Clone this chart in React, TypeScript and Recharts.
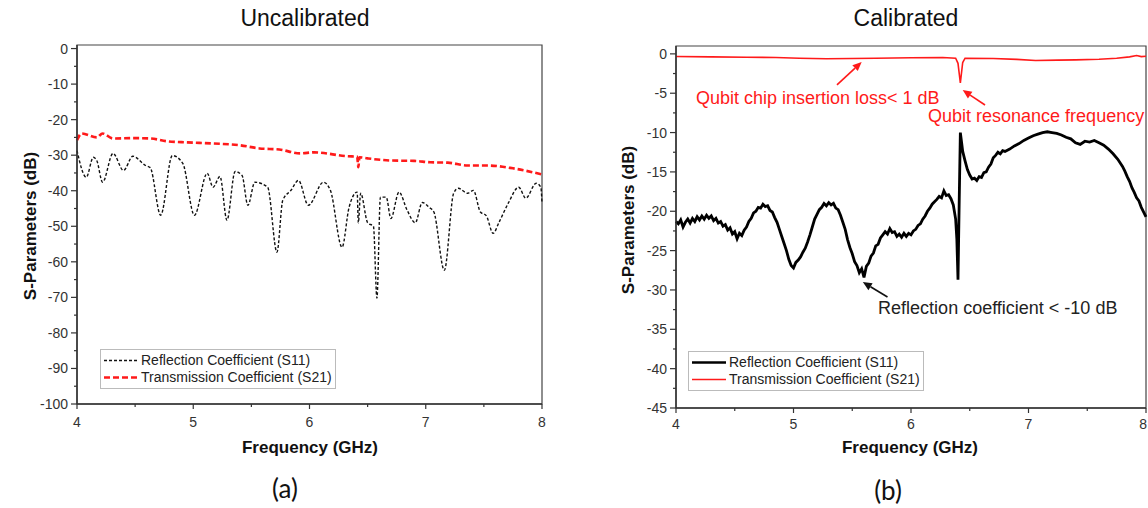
import React from "react";
import { LineChart, Line, XAxis, YAxis, ReferenceArea, ReferenceLine, ReferenceDot, Legend } from "recharts";

// ---------- (a) Uncalibrated ----------
const freqA11 = [4.0, 4.08, 4.14, 4.17, 4.22, 4.31, 4.4, 4.48, 4.59, 4.63, 4.72, 4.82, 4.91, 5.01, 5.12, 5.17, 5.23, 5.29, 5.36, 5.42, 5.47, 5.53, 5.64, 5.72, 5.77, 5.84, 5.905, 5.99, 6.12, 6.18, 6.28, 6.34, 6.41, 6.42, 6.44, 6.5, 6.55, 6.58, 6.61, 6.66, 6.7, 6.77, 6.84, 6.91, 6.97, 7.03, 7.07, 7.16, 7.24, 7.28, 7.36, 7.41, 7.47, 7.52, 7.58, 7.63, 7.71, 7.8, 7.86, 7.95, 7.99, 8.0];
const s11A = [-28.7, -36.2, -30.6, -31.5, -37.6, -29.5, -34.3, -30.3, -32.9, -33.5, -46.9, -30.1, -32.3, -46.9, -35.1, -39.0, -36.0, -48.3, -34.6, -35.7, -44.1, -37.6, -39.0, -57.3, -42.7, -39.9, -37.1, -44.1, -37.6, -39.9, -55.9, -44.7, -40.4, -49.0, -40.7, -49.0, -50.0, -70.2, -41.8, -41.8, -47.8, -40.4, -45.5, -49.0, -43.3, -44.7, -46.0, -62.4, -40.7, -39.3, -40.7, -39.9, -46.0, -47.0, -52.0, -48.9, -43.5, -39.0, -42.1, -37.9, -39.0, -43.5];
const freqA21 = [4.0, 4.04, 4.17, 4.22, 4.31, 4.48, 4.63, 4.78, 4.95, 5.17, 5.4, 5.57, 5.74, 5.92, 6.04, 6.33, 6.41, 6.42, 6.43, 6.5, 6.7, 6.9, 7.04, 7.19, 7.36, 7.53, 7.75, 8.0];
const s21A = [-25.8, -23.9, -25.0, -23.9, -25.3, -25.2, -25.3, -26.1, -26.4, -26.7, -27.2, -28.1, -28.4, -29.5, -29.2, -30.3, -30.4, -33.4, -30.6, -30.9, -31.5, -31.6, -32.0, -32.1, -32.9, -32.9, -33.7, -35.4];

// ---------- (b) Calibrated ----------
const freqB11 = [4.0, 4.02, 4.04, 4.06, 4.08, 4.1, 4.12, 4.14, 4.16, 4.18, 4.2, 4.22, 4.24, 4.26, 4.28, 4.3, 4.32, 4.34, 4.36, 4.38, 4.4, 4.42, 4.44, 4.46, 4.48, 4.5, 4.52, 4.54, 4.56, 4.58, 4.6, 4.62, 4.64, 4.66, 4.68, 4.7, 4.72, 4.74, 4.76, 4.78, 4.8, 4.82, 4.84, 4.86, 4.88, 4.9, 4.92, 4.94, 4.96, 4.98, 5.0, 5.02, 5.04, 5.06, 5.08, 5.1, 5.12, 5.14, 5.16, 5.18, 5.2, 5.22, 5.24, 5.26, 5.28, 5.3, 5.32, 5.34, 5.36, 5.38, 5.4, 5.42, 5.44, 5.46, 5.48, 5.5, 5.52, 5.54, 5.56, 5.58, 5.6, 5.62, 5.64, 5.66, 5.68, 5.7, 5.72, 5.74, 5.76, 5.78, 5.8, 5.82, 5.84, 5.86, 5.88, 5.9, 5.92, 5.94, 5.96, 5.98, 6.0, 6.02, 6.04, 6.06, 6.08, 6.1, 6.12, 6.14, 6.16, 6.18, 6.2, 6.22, 6.24, 6.26, 6.28, 6.3, 6.32, 6.34, 6.36, 6.38, 6.39, 6.4, 6.41, 6.42, 6.43, 6.44, 6.46, 6.48, 6.5, 6.52, 6.54, 6.56, 6.58, 6.6, 6.62, 6.64, 6.66, 6.68, 6.7, 6.72, 6.74, 6.76, 6.78, 6.8, 6.84, 6.88, 6.92, 6.96, 7.0, 7.04, 7.08, 7.12, 7.16, 7.2, 7.24, 7.28, 7.32, 7.36, 7.4, 7.44, 7.48, 7.52, 7.56, 7.6, 7.64, 7.68, 7.72, 7.76, 7.8, 7.82, 7.84, 7.86, 7.88, 7.9, 7.92, 7.94, 7.96, 7.98, 8.0];
const s11B = [-21.3, -21.6, -21.1, -22.0, -21.4, -21.0, -21.5, -20.9, -21.3, -20.7, -21.1, -20.6, -21.0, -20.5, -20.9, -20.6, -21.2, -20.9, -21.5, -21.3, -21.9, -21.7, -22.4, -22.1, -22.9, -22.6, -23.5, -22.8, -23.1, -22.4, -22.0, -21.3, -20.9, -20.2, -20.0, -19.5, -19.6, -19.1, -19.4, -19.3, -19.9, -20.1, -20.8, -21.4, -22.3, -23.2, -24.1, -25.0, -26.1, -26.9, -27.2, -26.5, -26.2, -25.8, -25.2, -24.7, -23.9, -23.0, -22.0, -21.0, -20.4, -19.8, -19.5, -19.0, -19.3, -18.9, -19.2, -19.0, -19.6, -19.8, -20.5, -21.4, -22.3, -23.6, -24.6, -25.4, -26.4, -26.9, -27.8, -27.3, -28.4, -27.0, -26.6, -25.7, -25.3, -24.4, -24.2, -23.4, -23.0, -22.6, -22.9, -22.2, -22.7, -22.6, -23.2, -22.9, -23.3, -22.8, -23.2, -22.8, -23.0, -22.5, -22.3, -21.8, -21.6, -21.0, -20.6, -20.0, -19.6, -19.1, -18.8, -18.5, -18.1, -18.3, -17.4, -18.0, -17.9, -18.4, -19.2, -21.0, -23.5, -28.7, -19.0, -10.0, -11.2, -12.4, -13.6, -14.7, -15.4, -15.9, -15.8, -16.1, -15.6, -15.7, -15.1, -15.0, -14.4, -14.0, -13.2, -12.9, -12.5, -12.7, -12.3, -12.4, -12.1, -11.7, -11.4, -11.0, -10.7, -10.4, -10.2, -10.0, -9.9, -10.0, -10.1, -10.3, -10.6, -10.8, -11.3, -11.5, -11.1, -11.2, -11.0, -11.3, -11.6, -12.1, -12.7, -13.4, -14.3, -14.9, -15.6, -16.2, -17.0, -17.6, -18.3, -18.7, -19.5, -20.1, -20.7];
const freqB21 = [4.0, 4.3, 4.6, 4.85, 5.05, 5.28, 5.5, 5.7, 6.0, 6.27, 6.38, 6.4, 6.42, 6.44, 6.46, 6.7, 6.9, 7.06, 7.25, 7.4, 7.6, 7.75, 7.86, 7.92, 7.96, 8.0];
const s21B = [-0.34, -0.38, -0.42, -0.47, -0.55, -0.62, -0.58, -0.55, -0.5, -0.47, -0.55, -1.2, -3.7, -1.1, -0.55, -0.58, -0.7, -0.85, -0.8, -0.76, -0.68, -0.55, -0.38, -0.21, -0.35, -0.3];

// ---------- ticks & labels ----------
const xTicks = [4, 4.5, 5, 5.5, 6, 6.5, 7, 7.5, 8];
const yTicksA = [0, -5, -10, -15, -20, -25, -30, -35, -40, -45, -50, -55, -60, -65, -70, -75, -80, -85, -90, -95, -100];
const yTicksB = [0, -2.5, -5, -7.5, -10, -12.5, -15, -17.5, -20, -22.5, -25, -27.5, -30, -32.5, -35, -37.5, -40, -42.5, -45];
const seriesNames = ["Reflection Coefficient (S11)", "Transmission Coefficient (S21)"];
const annotations = ["Qubit chip insertion loss< 1 dB", "Qubit resonance frequency", "Reflection coefficient < -10 dB"];

const zip = (xs: number[], ys: number[]) => xs.map((f, i) => ({ f, v: ys[i] }));
const dataA11 = zip(freqA11, s11A);
const dataA21 = zip(freqA21, s21A);
const dataB11 = zip(freqB11, s11B);
const dataB21 = zip(freqB21, s21B);

const FONT = "'Liberation Sans', Arial, sans-serif";
const AX = "#333";

const makeYTick = (axisX: number, majorStep: number) => (props: any) => {
  const { y, payload } = props;
  const v = payload.value as number;
  const major = Math.abs(v % majorStep) < 1e-6;
  return (
    <g>
      <line x1={axisX - (major ? 6 : 3)} x2={axisX} y1={y} y2={y} stroke={AX} strokeWidth={1.2} />
      {major && (
        <text x={axisX - 9} y={y} textAnchor="end" dominantBaseline="central" fontSize={14} fontFamily={FONT} fill="#333">
          {v}
        </text>
      )}
    </g>
  );
};

const makeXTick = (axisY: number, labelGap: number, maxX: number) => (props: any) => {
  const { x, payload } = props;
  const v = payload.value as number;
  const major = Math.abs(v % 1) < 1e-6;
  const atEdge = x > maxX - 4;
  return (
    <g>
      <line x1={x} x2={x} y1={axisY} y2={axisY + (major ? 5 : 3)} stroke={AX} strokeWidth={1.2} />
      {major && (
        <text x={atEdge ? x + 1 : x} y={axisY + labelGap} textAnchor={atEdge ? "end" : "middle"} dominantBaseline="central" fontSize={14} fontFamily={FONT} fill="#333">
          {v}
        </text>
      )}
    </g>
  );
};

const makeLegend = (styles: Record<string, { color: string; dash?: string; width: number }>) => (props: any) => {
  const payload = props.payload || [];
  return (
    <div style={{ border: "1px solid #bbb", background: "#fff", padding: "2px 3px", fontFamily: FONT, fontSize: 14, color: "#222", lineHeight: "17px" }}>
      {payload.map((p: any) => {
        const st = styles[p.value];
        return (
          <div key={p.value} style={{ display: "flex", alignItems: "center", whiteSpace: "nowrap" }}>
            <svg width={34} height={17} style={{ marginRight: 3 }}>
              <line x1={0} x2={34} y1={8.5} y2={8.5} stroke={st.color} strokeWidth={st.width} strokeDasharray={st.dash} />
            </svg>
            <span>{p.value}</span>
          </div>
        );
      })}
    </div>
  );
};

const arrowShape = (color: string) => (props: any) => {
  const { x1, y1, x2, y2 } = props;
  const ang = Math.atan2(y2 - y1, x2 - x1);
  const L = 9, W = 4;
  const bx = x2 - L * Math.cos(ang), by = y2 - L * Math.sin(ang);
  const px = -Math.sin(ang) * W, py = Math.cos(ang) * W;
  return (
    <g>
      <line x1={x1} y1={y1} x2={bx} y2={by} stroke={color} strokeWidth={1.6} />
      <polygon points={`${x2},${y2} ${bx + px},${by + py} ${bx - px},${by - py}`} fill={color} />
    </g>
  );
};

const textShape = (txt: string, color: string) => (props: any) => (
  <text x={props.cx} y={props.cy} fill={color} fontSize={18} fontFamily={FONT}>
    {txt}
  </text>
);

const Abs = ({ x, y, size, bold, rotate, family, children }: any) => (
  <div
    style={{
      position: "absolute",
      left: x,
      top: y,
      transform: `translate(-50%, -50%)${rotate ? " rotate(-90deg)" : ""}`,
      fontSize: size,
      fontWeight: bold ? 700 : 400,
      fontFamily: family || FONT,
      whiteSpace: "nowrap",
      lineHeight: 1,
      color: "#111",
    }}
  >
    {children}
  </div>
);

export default function App() {
  const legendA = {
    [seriesNames[0]]: { color: "#111", dash: "3 2", width: 1.4 },
    [seriesNames[1]]: { color: "#ff1a1a", dash: "6 3", width: 2.6 },
  };
  const legendB = {
    [seriesNames[0]]: { color: "#000", width: 2.4 },
    [seriesNames[1]]: { color: "#ff1a1a", width: 1.6 },
  };
  return (
    <div style={{ position: "absolute", left: 0, top: 0, width: 1148, height: 508, background: "#fff", overflow: "hidden" }}>
      <div style={{ position: "absolute", left: 0, top: 0 }}>
        <LineChart width={560} height={508} margin={{ top: 45, right: 18, bottom: 74, left: 0 }}>
          <XAxis dataKey="f" type="number" domain={[4, 8]} ticks={xTicks} interval={0} height={30} stroke={AX} strokeWidth={1.5} tickLine={false} tick={makeXTick(404, 18, 9999)} allowDuplicatedCategory={false} />
          <YAxis type="number" domain={[-100, 1]} ticks={yTicksA} interval={0} width={77} stroke={AX} strokeWidth={1.5} tickLine={false} tick={makeYTick(77, 10)} />
          <ReferenceArea x1={4} x2={8} y1={-100} y2={1} fill="none" stroke="#444" strokeWidth={1.2} ifOverflow="visible" />
          <Line type="monotone" data={dataA11} dataKey="v" name={seriesNames[0]} stroke="#111" strokeWidth={1.4} strokeDasharray="3 2" dot={false} isAnimationActive={false} />
          <Line type="monotone" data={dataA21} dataKey="v" name={seriesNames[1]} stroke="#ff1a1a" strokeWidth={2.6} strokeDasharray="6 3" dot={false} isAnimationActive={false} />
          <Legend layout="horizontal" verticalAlign="middle" align="center" content={makeLegend(legendA)} wrapperStyle={{ left: 100, top: 349, width: "auto", height: "auto" }} />
        </LineChart>
      </div>
      <div style={{ position: "absolute", left: 576, top: 0 }}>
        <LineChart width={572} height={508} margin={{ top: 46, right: 2, bottom: 70, left: 0 }}>
          <XAxis dataKey="f" type="number" domain={[4, 8]} ticks={xTicks} interval={0} height={30} stroke={AX} strokeWidth={1.5} tickLine={false} tick={makeXTick(408, 16, 570)} allowDuplicatedCategory={false} />
          <YAxis type="number" domain={[-45, 1]} ticks={yTicksB} interval={0} width={100} stroke={AX} strokeWidth={1.5} tickLine={false} tick={makeYTick(100, 5)} />
          <ReferenceArea x1={4} x2={8} y1={-45} y2={1} fill="none" stroke="#444" strokeWidth={1.2} ifOverflow="visible" />
          <Line data={dataB11} dataKey="v" name={seriesNames[0]} stroke="#000" strokeWidth={2.8} strokeLinejoin="miter" dot={false} isAnimationActive={false} />
          <Line data={dataB21} dataKey="v" name={seriesNames[1]} stroke="#ff1a1a" strokeWidth={1.6} dot={false} isAnimationActive={false} />
          <ReferenceLine segment={[{ x: 5.37, y: -3.95 }, { x: 5.58, y: -1.03 }]} shape={arrowShape("#ff1a1a")} ifOverflow="visible" />
          <ReferenceLine segment={[{ x: 6.63, y: -6.5 }, { x: 6.44, y: -4.6 }]} shape={arrowShape("#ff1a1a")} ifOverflow="visible" />
          <ReferenceLine segment={[{ x: 5.8, y: -30.9 }, { x: 5.59, y: -29.0 }]} shape={arrowShape("#111")} ifOverflow="visible" />
          <ReferenceDot x={4.17} y={-6.37} r={0} shape={textShape(annotations[0], "#ff1a1a")} ifOverflow="visible" />
          <ReferenceDot x={6.145} y={-8.65} r={0} shape={textShape(annotations[1], "#ff1a1a")} ifOverflow="visible" />
          <ReferenceDot x={5.72} y={-33.05} r={0} shape={textShape(annotations[2], "#222")} ifOverflow="visible" />
          <Legend layout="horizontal" verticalAlign="middle" align="center" content={makeLegend(legendB)} wrapperStyle={{ left: 112, top: 351, width: "auto", height: "auto" }} />
        </LineChart>
      </div>
      <Abs x={305} y={18} size={23}>Uncalibrated</Abs>
      <Abs x={906} y={18} size={23}>Calibrated</Abs>
      <Abs x={30} y={226} size={17} bold rotate>S-Parameters (dB)</Abs>
      <Abs x={628} y={220} size={17} bold rotate>S-Parameters (dB)</Abs>
      <Abs x={310} y={447} size={17} bold>Frequency (GHz)</Abs>
      <Abs x={910} y={447} size={17} bold>Frequency (GHz)</Abs>
      <Abs x={285} y={488} size={26} family="Lato, 'Open Sans', sans-serif">(a)</Abs>
      <Abs x={888} y={490} size={26} family="Lato, 'Open Sans', sans-serif">(b)</Abs>
    </div>
  );
}
